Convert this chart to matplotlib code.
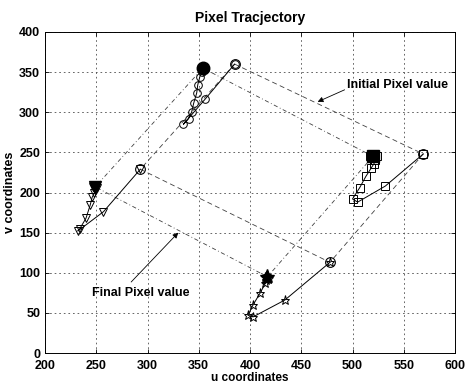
import matplotlib
matplotlib.use("Agg")
import matplotlib.pyplot as plt

plt.rcParams['font.family'] = ['Liberation Sans', 'DejaVu Sans']
plt.rcParams['font.weight'] = 'bold'
plt.rcParams['axes.titleweight'] = 'bold'
plt.rcParams['axes.labelweight'] = 'bold'

# Trajectory of the top feature point (circles)
top_u = [385, 356, 335, 340, 343, 345, 348, 349, 351, 353, 354, 353, 355, 354, 356, 352]
top_v = [360, 316, 285, 292, 300, 311, 324, 334, 344, 350, 353, 355, 356, 357, 354, 356]

# Trajectory of the right feature point (squares)
right_u = [569, 532, 505, 500, 507, 513, 518, 521, 522, 521, 520, 518, 522, 520, 524, 517]
right_v = [248, 208, 188, 192, 206, 220, 230, 236, 240, 243, 245, 244, 246, 247, 245, 246]

# Trajectory of the bottom feature point (stars)
bot_u = [478, 434, 403, 398, 403, 410, 415, 416, 417, 418, 416, 417, 419, 415]
bot_v = [113, 66, 45, 47, 60, 75, 87, 91, 94, 95, 96, 97, 94, 95]

# Trajectory of the left feature point (down triangles)
left_u = [293, 257, 232, 234, 240, 244, 246, 248, 249, 250, 248, 249, 251, 247]
left_v = [229, 176, 152, 155, 168, 184, 194, 199, 203, 205, 206, 208, 205, 207]

# Initial and final feature squares
init_u = [385, 569, 478, 293, 385]
init_v = [360, 248, 113, 229, 360]
fin_u = [354, 520, 417, 249, 354]
fin_v = [355, 245, 95, 207, 355]

xticks = list(range(200, 601, 50))
yticks = list(range(0, 401, 50))

fig = plt.figure(figsize=(4.65, 3.85), dpi=100)
ax = fig.add_axes([0.0968, 0.0831, 0.8817, 0.8338])

# squares
ax.plot(init_u, init_v, color='0.25', lw=0.6, ls=(0, (6, 4)), zorder=2)
ax.plot(fin_u, fin_v, color='0.25', lw=0.6, ls=(0, (5, 3, 1, 3)), zorder=2)

mk = dict(color='black', lw=0.7, mfc='none', mec='black', mew=0.7, ms=5.5, zorder=3)
ax.plot(top_u, top_v, marker='o', **mk)
ax.plot(right_u, right_v, marker='s', **mk)
ax.plot(bot_u, bot_v, marker='*', **dict(mk, ms=6.5))
ax.plot(left_u, left_v, marker='v', **mk)

# initial markers
ax.plot(init_u[:4], init_v[:4], ls='none', marker='o', ms=7, mfc='none', mec='black', mew=0.8, zorder=4)
# final blobs
for u, v, m, s in zip(fin_u[:4], fin_v[:4], ['o', 's', '*', 'v'], [9, 8.5, 11, 9]):
    ax.plot([u], [v], ls='none', marker=m, ms=s, mfc='black', mec='black', zorder=4)

ax.annotate('Initial Pixel value', xy=(466, 313), xytext=(495, 334),
            fontsize=9, va='center', ha='left',
            arrowprops=dict(arrowstyle='-|>', lw=0.6, color='black', mutation_scale=8,
                            shrinkA=0, shrinkB=0, relpos=(0, 0.2)))
ax.annotate('Final Pixel value', xy=(330, 150), xytext=(246, 75),
            fontsize=9, va='center', ha='left',
            arrowprops=dict(arrowstyle='-|>', lw=0.6, color='black', mutation_scale=8,
                            shrinkA=0, shrinkB=0, relpos=(0.4, 1.4)))

ax.set_xlim(200, 600)
ax.set_ylim(0, 400)
ax.set_xticks(xticks)
ax.set_yticks(yticks)
ax.tick_params(direction='in', length=3, width=0.6, labelsize=9, top=True, right=True,
               labeltop=False, labelright=False)
ax.tick_params(axis='x', pad=5)
ax.grid(True, color='0.3', lw=0.6, ls=(0, (2, 3.5)))
for s in ax.spines.values():
    s.set_linewidth(0.7)
ax.set_title('Pixel Tracjectory', fontsize=10, pad=7)
ax.set_xlabel('u coordinates', fontsize=8.5, labelpad=0)
ax.set_ylabel('v coordinates', fontsize=9, labelpad=2)

fig.savefig('out.png', dpi=100)
